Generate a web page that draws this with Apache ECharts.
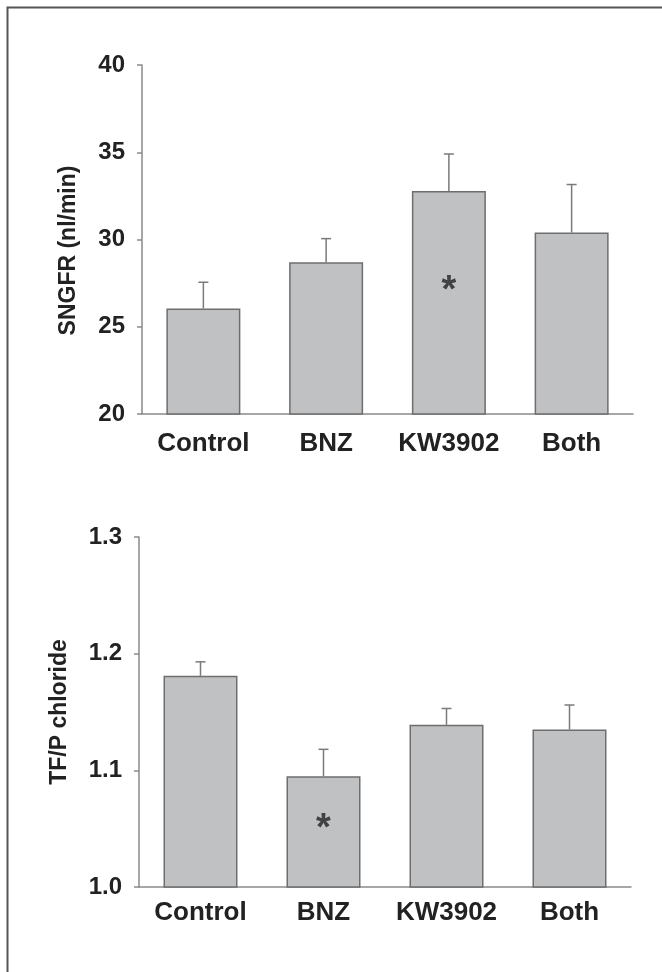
<!DOCTYPE html>
<html>
<head>
<meta charset="utf-8">
<title>SNGFR and TF/P chloride</title>
<script src="https://cdn.jsdelivr.net/npm/echarts@6/dist/echarts.min.js"></script>
<style>
    html, body { margin: 0; padding: 0; background: #fff; }
    #chart { width: 662px; height: 972px; }
</style>
</head>
<body>
<div id="chart"></div>
<script>
var categories = ['Control', 'BNZ', 'KW3902', 'Both'];

// top panel: SNGFR (nl/min)
var sngfrMean = [26.05, 28.7, 32.78, 30.4];
var sngfrErr = [1.5, 1.35, 2.12, 2.75];
var sngfrStar = [null, null, 27.0, null];
var sngfrTicks = [20, 40, 5];

// bottom panel: TF/P chloride
var tfpMean = [1.181, 1.095, 1.139, 1.135];
var tfpErr = [0.012, 0.023, 0.014, 0.021];
var tfpStar = [null, 1.049, null, null];
var tfpTicks = [1.0, 1.3, 0.1];

var axisColor = '#8a8a8a';
var textColor = '#222';
var font = 'Liberation Sans, Arial, sans-serif';

var chart = echarts.init(document.getElementById('chart'));

var errorBars = function(params, api) {
    var x = api.value(0);
    var top = api.coord([x, api.value(1) + api.value(2)]);
    var base = api.coord([x, api.value(1)]);
    return {
        type: 'group',
        children: [
            { type: 'line', shape: { x1: base[0], y1: base[1], x2: top[0], y2: top[1] },
              style: { stroke: '#7a7a7a', lineWidth: 1.5 } },
            { type: 'line', shape: { x1: top[0] - 5, y1: top[1], x2: top[0] + 5, y2: top[1] },
              style: { stroke: '#7a7a7a', lineWidth: 1.5 } }
        ]
    };
};

var makeX = function(idx, margin) {
    return {
        type: 'category',
        gridIndex: idx,
        data: categories,
        axisLine: { lineStyle: { color: axisColor, width: 1.5 } },
        axisTick: { show: false },
        axisLabel: {
            interval: 0,
            color: textColor, fontFamily: font, fontWeight: 'bold', fontSize: 26, margin: margin
        }
    };
};

var makeY = function(idx, ticks, name, gap, digits, namePad) {
    return {
        type: 'value',
        gridIndex: idx,
        min: ticks[0],
        max: ticks[1],
        interval: ticks[2],
        name: name,
        nameLocation: 'middle',
        nameGap: gap,
        nameTextStyle: {
            color: textColor, fontFamily: font, fontWeight: 'bold', fontSize: 23, padding: namePad
        },
        splitLine: { show: false },
        axisLine: { show: true, lineStyle: { color: axisColor, width: 1.5 } },
        axisTick: { show: true, length: 5, lineStyle: { color: axisColor, width: 1.5 } },
        axisLabel: {
            color: textColor, fontFamily: font, fontWeight: 'bold', fontSize: 24, margin: 17,
            formatter: function(v) { return v.toFixed(digits); }
        }
    };
};

var barSeries = function(idx, data) {
    return {
        type: 'bar',
        xAxisIndex: idx,
        yAxisIndex: idx,
        data: data,
        barWidth: 74,
        itemStyle: { color: '#c0c1c3', borderColor: '#6e6e6e', borderWidth: 1.5 },
        silent: true
    };
};

var errSeries = function(idx, mean, err) {
    return {
        type: 'custom',
        xAxisIndex: idx,
        yAxisIndex: idx,
        renderItem: errorBars,
        data: mean.map(function(m, i) { return [i, m, err[i]]; }),
        z: 1,
        silent: true
    };
};

var starSeries = function(idx, data) {
    return {
        type: 'scatter',
        xAxisIndex: idx,
        yAxisIndex: idx,
        symbolSize: 0,
        data: data.map(function(v, i) { return v === null ? null : [i, v]; }),
        label: {
            show: true, position: 'inside', formatter: '*',
            color: '#222', fontFamily: font, fontWeight: 'bold', fontSize: 38
        },
        z: 5,
        silent: true
    };
};

chart.setOption({
    animation: false,
    backgroundColor: '#fff',
    graphic: [{
        type: 'rect',
        shape: { x: 7.5, y: 7.5, width: 800, height: 1100 },
        style: { fill: 'none', stroke: '#555', lineWidth: 2 }
    }],
    grid: [
        { left: 142, top: 65, width: 491, height: 349 },
        { left: 139, top: 537, width: 492, height: 350 }
    ],
    xAxis: [makeX(0, 17), makeX(1, 13)],
    yAxis: [
        makeY(0, sngfrTicks, 'SNGFR (nl/min)', 62, 0, [0, 22, 0, 0]),
        makeY(1, tfpTicks, 'TF/P chloride', 68, 1, 0)
    ],
    series: [
        barSeries(0, sngfrMean),
        errSeries(0, sngfrMean, sngfrErr),
        starSeries(0, sngfrStar),
        barSeries(1, tfpMean),
        errSeries(1, tfpMean, tfpErr),
        starSeries(1, tfpStar)
    ]
});
</script>
</body>
</html>
